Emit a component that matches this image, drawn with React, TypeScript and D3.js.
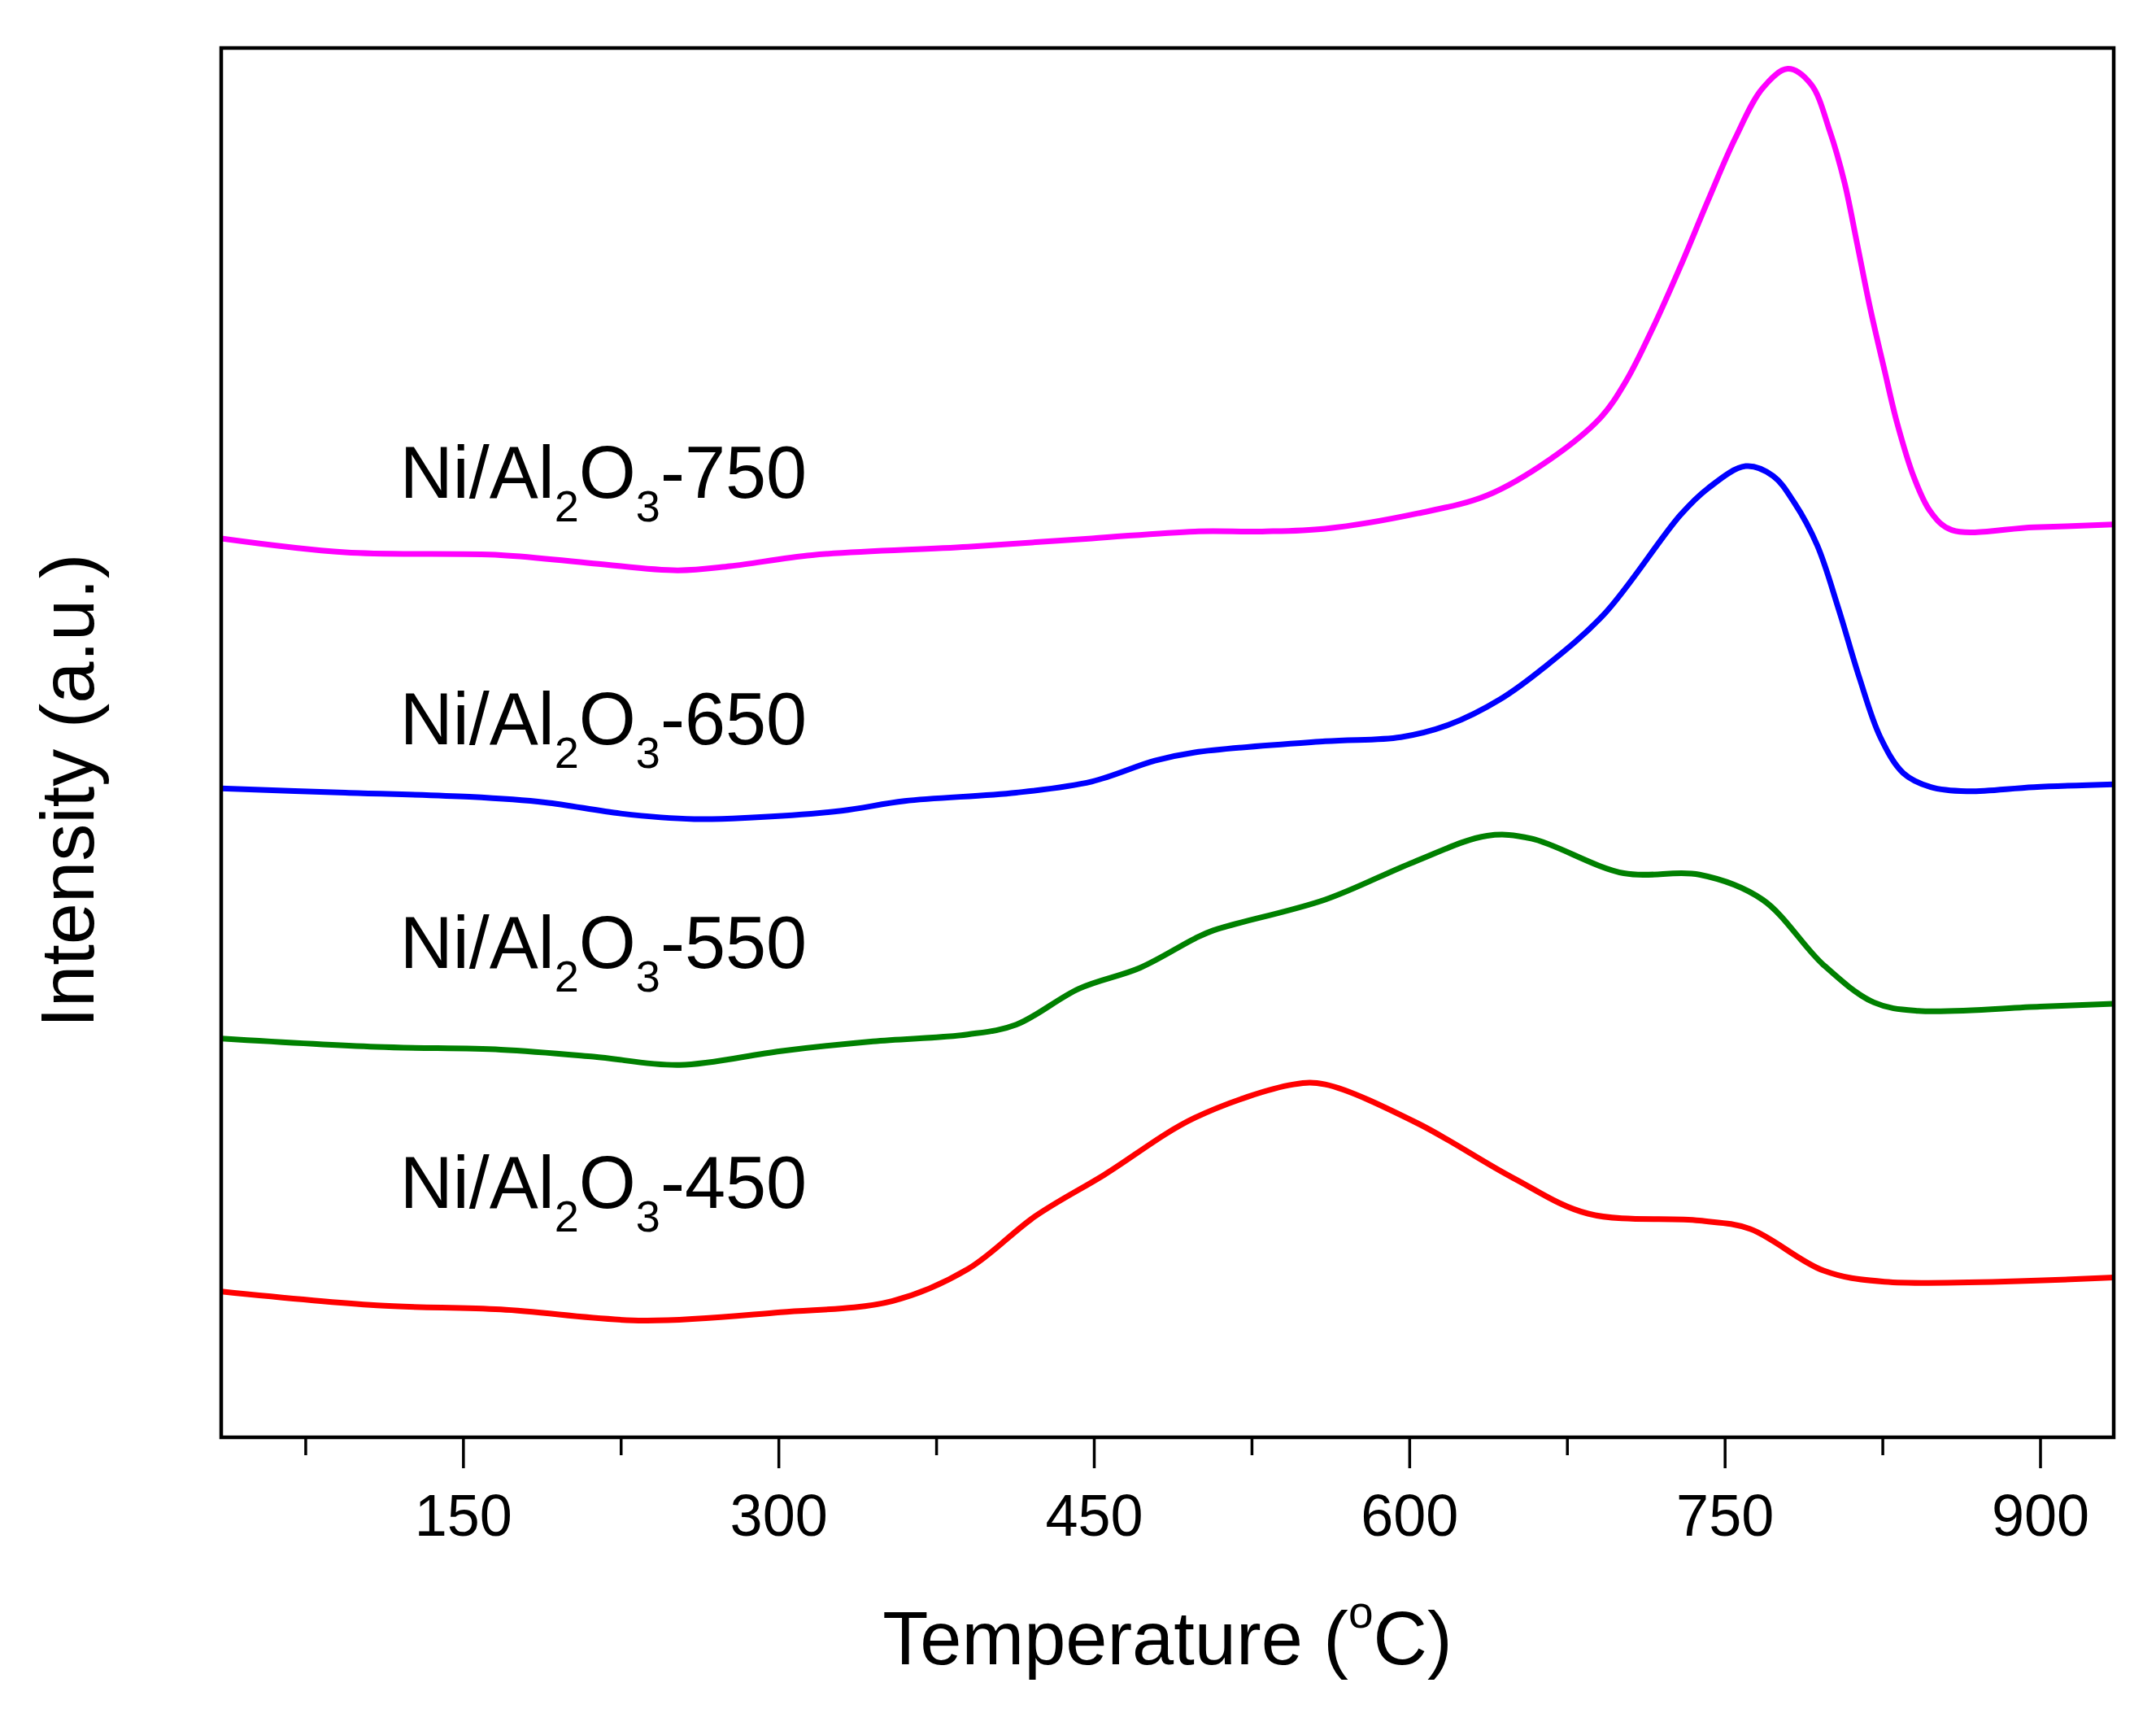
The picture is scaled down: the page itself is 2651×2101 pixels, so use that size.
import { useRef, useEffect } from "react";
import * as d3 from "d3";

const W = 2651;
const H = 2101;

// [temperature °C, intensity a.u.]
const ni450: [number, number][] = [
  [35, 10.5], [109, 9.5], [168, 9.2], [236, 8.4], [301, 9.0], [354, 9.8], [390, 12.1],
  [422, 15.9], [455, 18.9], [498, 23.0], [545, 25.4], [560, 25.4], [604, 22.6], [649, 18.7],
  [685, 16.1], [738, 15.6], [762, 15.0], [797, 12.0], [826, 11.2], [935, 11.5],
];
const ni550: [number, number][] = [
  [35, 28.7], [109, 28.1], [168, 27.9], [212, 27.4], [253, 26.8], [301, 27.8], [345, 28.5],
  [390, 29.0], [413, 29.7], [443, 32.3], [472, 33.8], [498, 35.9], [507, 36.5], [560, 38.7],
  [602, 41.4], [637, 43.3], [658, 43.1], [702, 40.6], [738, 40.5], [768, 38.7], [797, 34.0],
  [821, 31.3], [842, 30.7], [900, 31.0], [935, 31.2],
];
const ni650: [number, number][] = [
  [35, 46.7], [94, 46.4], [153, 46.1], [189, 45.7], [225, 44.9], [260, 44.5], [286, 44.6],
  [330, 45.1], [360, 45.8], [413, 46.4], [449, 47.2], [479, 48.7], [498, 49.3], [560, 50.1],
  [596, 50.4], [619, 51.3], [643, 53.1], [664, 55.4], [693, 59.3], [729, 66.4], [742, 68.3],
  [760, 69.9], [773, 69.2], [783, 67.3], [794, 64.2], [804, 59.7], [814, 54.7], [824, 50.4],
  [835, 47.8], [848, 46.8], [865, 46.5], [897, 46.8], [935, 47.0],
];
const ni750: [number, number][] = [
  [35, 64.7], [94, 63.7], [168, 63.5], [212, 62.9], [252, 62.4], [277, 62.7], [316, 63.5],
  [390, 64.1], [449, 64.7], [498, 65.2], [530, 65.2], [560, 65.4], [604, 66.5], [637, 67.8],
  [667, 70.4], [691, 73.4], [703, 76.0], [716, 79.9], [729, 84.3], [742, 89.0], [755, 93.5],
  [768, 97.1], [780, 98.5], [791, 97.4], [800, 94.0], [807, 90.3], [813, 85.9], [819, 81.4],
  [826, 76.8], [832, 73.0], [840, 69.1], [848, 66.6], [858, 65.3], [897, 65.5], [935, 65.7],
];

const seriesData = [ni450, ni550, ni650, ni750];
const seriesNames = ["450", "550", "650", "750"];
const seriesColors = ["#ff0000", "#008000", "#0000ff", "#ff00ff"];
const labelLevels = [16.5, 33.8, 49.9, 67.6];
const labelTemp = 120;

const majorTicks = [150, 300, 450, 600, 750, 900];
const minorTicks = [75, 225, 375, 525, 675, 825];

export default function App() {
  const svgRef = useRef<SVGSVGElement>(null);

  useEffect(() => {
    if (!svgRef.current) return;
    const svg = d3.select(svgRef.current);
    svg.selectAll("*").remove();

    const m = { top: 59, left: 272, right: 2599, bottom: 1767 };
    const x = d3.scaleLinear().domain([35, 935]).range([m.left, m.right]);
    const y = d3.scaleLinear().domain([0, 100]).range([m.bottom, m.top]);
    const font = "'Liberation Sans', Arial, sans-serif";

    svg.append("rect").attr("width", W).attr("height", H).attr("fill", "#fff");

    svg.append("defs").append("clipPath").attr("id", "plot-clip")
      .append("rect").attr("x", m.left).attr("y", m.top)
      .attr("width", m.right - m.left).attr("height", m.bottom - m.top);

    // Curves
    const line = d3.line<[number, number]>()
      .x(d => x(d[0])).y(d => y(d[1])).curve(d3.curveCatmullRom.alpha(0.5));
    seriesData.forEach((s, i) => {
      svg.append("path").datum(s)
        .attr("clip-path", "url(#plot-clip)")
        .attr("fill", "none").attr("stroke", seriesColors[i]).attr("stroke-width", 7)
        .attr("stroke-linejoin", "round").attr("d", line);
    });

    // Minor & major ticks
    const minor = svg.append("g").attr("transform", `translate(0,${m.bottom})`)
      .call(d3.axisBottom(x).tickValues(minorTicks).tickSize(22).tickFormat(() => ""));
    minor.select(".domain").remove();
    minor.selectAll("line").attr("stroke", "#000").attr("stroke-width", 3.5);

    const major = svg.append("g").attr("transform", `translate(0,${m.bottom})`)
      .call(d3.axisBottom(x).tickValues(majorTicks).tickSize(38).tickPadding(32));
    major.select(".domain").remove();
    major.selectAll("line").attr("stroke", "#000").attr("stroke-width", 3.5);
    major.selectAll("text").attr("fill", "#000").attr("font-size", 72).attr("font-family", font);

    // Frame
    svg.append("rect").attr("x", m.left).attr("y", m.top)
      .attr("width", m.right - m.left).attr("height", m.bottom - m.top)
      .attr("fill", "none").attr("stroke", "#000").attr("stroke-width", 4.5);

    // Series labels
    seriesNames.forEach((n, i) => {
      const t = svg.append("text")
        .attr("x", x(labelTemp)).attr("y", y(labelLevels[i]))
        .attr("font-family", font).attr("font-size", 90).attr("fill", "#000");
      t.append("tspan").text("Ni/Al");
      t.append("tspan").attr("dy", 29).attr("font-size", 54).text("2");
      t.append("tspan").attr("dy", -29).text("O");
      t.append("tspan").attr("dy", 29).attr("font-size", 54).text("3");
      t.append("tspan").attr("dy", -29).text(`-${n}`);
    });

    // Axis titles
    const xt = svg.append("text").attr("x", (m.left + m.right) / 2).attr("y", 2046)
      .attr("text-anchor", "middle").attr("font-family", font).attr("font-size", 92).attr("fill", "#000");
    xt.append("tspan").text("Temperature (");
    xt.append("tspan").attr("dy", -45).attr("font-size", 55).text("o");
    xt.append("tspan").attr("dy", 45).text("C)");

    svg.append("text").attr("transform", "rotate(-90)")
      .attr("x", -972).attr("y", 115)
      .attr("text-anchor", "middle").attr("font-family", font).attr("font-size", 92).attr("fill", "#000")
      .text("Intensity (a.u.)");
  }, []);

  return (
    <svg ref={svgRef} width={W} height={H}
      style={{ position: "absolute", left: 0, top: 0, display: "block" }} />
  );
}
